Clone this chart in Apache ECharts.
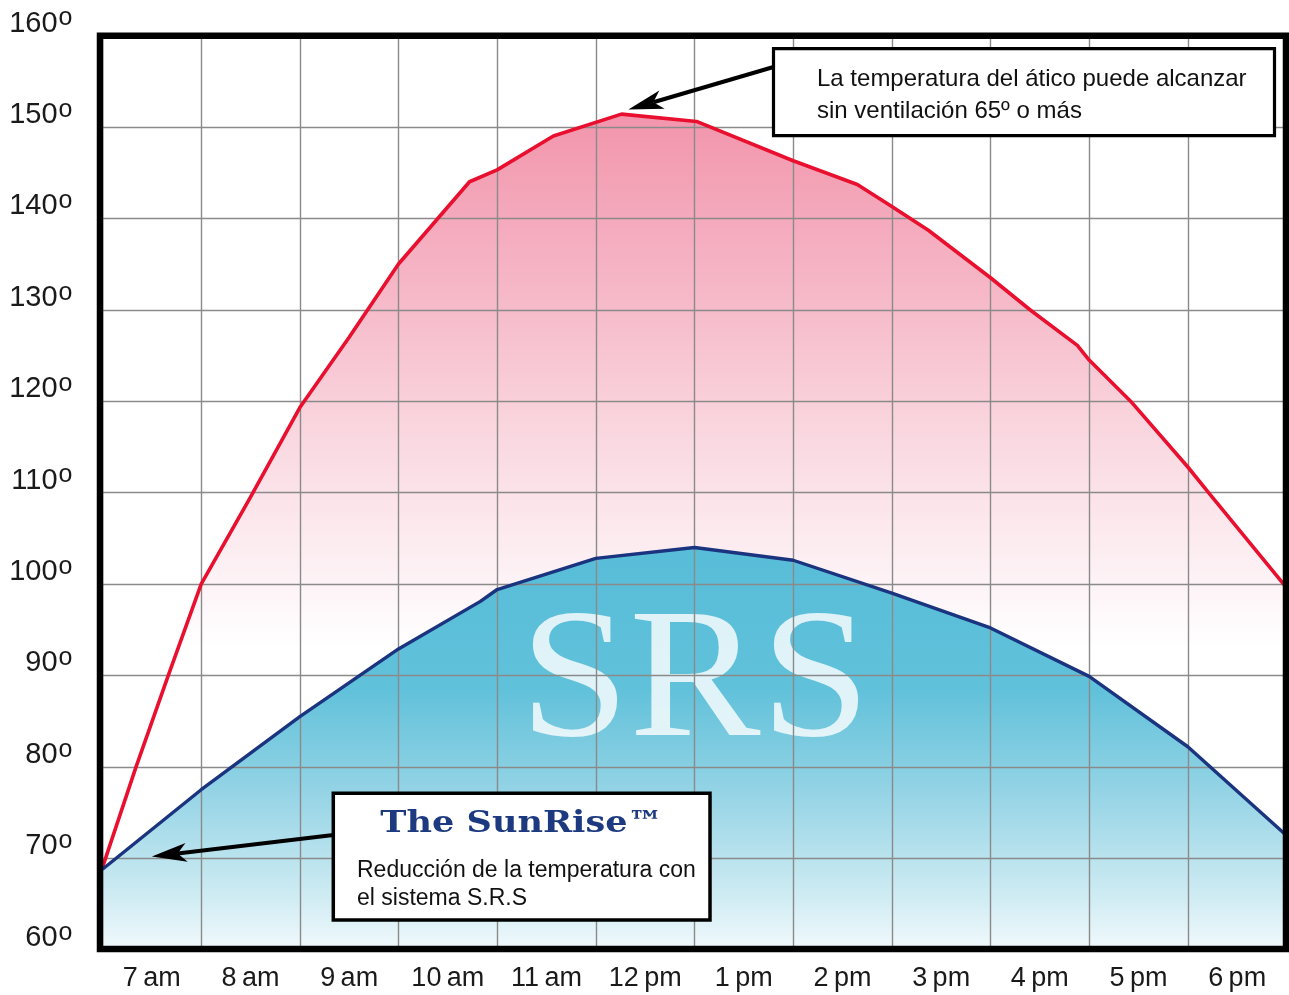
<!DOCTYPE html>
<html>
<head>
<meta charset="utf-8">
<title>Temperatura del ático</title>
<script src="https://cdn.jsdelivr.net/npm/echarts@6/dist/echarts.min.js"></script>
<style>
  html, body { margin: 0; padding: 0; background: #fff; }
  #main { width: 1289px; height: 995px; }
</style>
</head>
<body>
<div id="main"></div>
<script>
// etiquetas del eje x (una por hora, centradas en cada celda)
var hourLabels = ['7\u2009am', '8\u2009am', '9\u2009am', '10\u2009am', '11\u2009am', '12\u2009pm',
  '1\u2009pm', '2\u2009pm', '3\u2009pm', '4\u2009pm', '5\u2009pm', '6\u2009pm'];
// marcas del eje y
var tempTicks = [60, 70, 80, 90, 100, 110, 120, 130, 140, 150, 160];

// ático sin ventilación (x = horas desde las 7am)
var atticHours = [0, 0.34, 0.667, 1, 1.5, 2, 2.5, 3, 3.72, 4, 4.57, 5.26, 6.02, 7, 7.65, 8, 8.37, 9, 9.4, 9.88, 10, 10.42, 11, 11.21, 12];
var atticTemp = [69, 80, 90, 100, 109.5, 119.3, 127, 135, 144, 145.3, 149, 151.4, 150.6, 146.3, 143.7, 141.3, 138.7, 133.5, 130, 126.1, 124.5, 120, 112.8, 110, 99.6];

// con el sistema S.R.S
var srsHours = [0, 1, 2, 3, 3.83, 4, 5, 6, 7, 8, 9, 10, 11, 12];
var srsTemp = [68.8, 77.5, 85.5, 92.9, 98.1, 99.4, 102.8, 104, 102.6, 99.0, 95.2, 89.9, 82.2, 72.5];

var SANS = '"Liberation Sans", Arial, Helvetica, sans-serif';

function pairs(xs, ys) {
  return xs.map(function (x, i) { return [x, ys[i]]; });
}

var atticData = pairs(atticHours, atticTemp);
var srsData = pairs(srsHours, srsTemp);

var dom = document.getElementById('main');
var myChart = echarts.init(dom, null, { renderer: 'canvas' });

var option = {
  backgroundColor: '#ffffff',
  animation: false,
  grid: {
    left: 102.5,
    right: 2.5,
    top: 35.5,
    bottom: 45.3,
    containLabel: false,
    outerBoundsMode: 'none'
  },
  xAxis: [{
    type: 'value',
    min: 0,
    max: hourLabels.length,
    interval: 1,
    z: 3,
    axisLine: { show: false },
    axisTick: { show: false },
    axisLabel: { show: false },
    splitLine: { show: true, lineStyle: { color: '#8a8a8a', width: 1.4 } }
  }, {
    type: 'category',
    data: hourLabels,
    position: 'bottom',
    boundaryGap: true,
    axisLine: { show: false },
    axisTick: { show: false },
    splitLine: { show: false },
    axisLabel: {
      color: '#1a1a1a',
      fontSize: 27,
      fontFamily: SANS,
      margin: 15,
      interval: 0
    }
  }],
  yAxis: {
    type: 'value',
    min: tempTicks[0],
    max: tempTicks[tempTicks.length - 1],
    interval: tempTicks[1] - tempTicks[0],
    z: 3,
    axisLine: { show: false },
    axisTick: { show: false },
    splitLine: { show: true, lineStyle: { color: '#8a8a8a', width: 1.4 } },
    axisLabel: {
      margin: 30,
      verticalAlign: 'middle',
      padding: [0, 0, 24, 0],
      formatter: function (value) {
        return '{n|' + value + '}{o|o}';
      },
      rich: {
        n: { fontSize: 29, lineHeight: 24, fontFamily: SANS, color: '#1a1a1a' },
        o: { fontSize: 25, lineHeight: 24, fontFamily: SANS, color: '#1a1a1a', padding: [0, 0, 10, 1] }
      }
    }
  },
  series: [{
    // relleno rosa
    type: 'line',
    data: atticData,
    z: 1,
    silent: true,
    showSymbol: false,
    lineStyle: { width: 0 },
    areaStyle: {
      origin: 'start',
      opacity: 1,
      color: new echarts.graphic.LinearGradient(0, 0, 0, 1, [
        { offset: 0, color: '#f295ac' },
        { offset: 0.22, color: '#f6b9c8' },
        { offset: 0.40, color: '#fadae2' },
        { offset: 0.56, color: '#fdf3f6' },
        { offset: 0.64, color: '#ffffff' },
        { offset: 1, color: '#ffffff' }
      ])
    }
  }, {
    // relleno azul
    type: 'line',
    data: srsData,
    z: 1,
    silent: true,
    showSymbol: false,
    lineStyle: { width: 0 },
    areaStyle: {
      origin: 'start',
      opacity: 1,
      color: new echarts.graphic.LinearGradient(0, 0, 0, 1, [
        { offset: 0, color: '#58bdd8' },
        { offset: 0.35, color: '#60c1da' },
        { offset: 0.6, color: '#93d3e5' },
        { offset: 0.85, color: '#cbeaf2' },
        { offset: 1, color: '#f1f9fc' }
      ])
    }
  }, {
    type: 'line',
    data: atticData,
    z: 4,
    showSymbol: false,
    lineStyle: { color: '#e8102e', width: 3.6 }
  }, {
    type: 'line',
    data: srsData,
    z: 4,
    showSymbol: false,
    lineStyle: { color: '#1b347f', width: 3.4 }
  }]
};

myChart.setOption(option, true);

// flecha: línea + punta
function arrow(tail, tip) {
  var dx = tip[0] - tail[0], dy = tip[1] - tail[1];
  var len = Math.sqrt(dx * dx + dy * dy);
  var ux = dx / len, uy = dy / len;
  var px = -uy, py = ux;
  var L = 35, W = 9.5, N = 26;
  var bx = tip[0] - ux * L, by = tip[1] - uy * L;
  var nx = tip[0] - ux * N, ny = tip[1] - uy * N;
  return [{
    type: 'line',
    z: 10,
    shape: { x1: tail[0], y1: tail[1], x2: nx, y2: ny },
    style: { stroke: '#000', lineWidth: 4 }
  }, {
    type: 'polygon',
    z: 10,
    shape: { points: [tip, [bx + px * W, by + py * W], [nx, ny], [bx - px * W, by - py * W]] },
    style: { fill: '#000' }
  }];
}

var topTip = myChart.convertToPixel({ xAxisIndex: 0, yAxisIndex: 0 }, [5.33, 151.9]);
var lowTip = myChart.convertToPixel({ xAxisIndex: 0, yAxisIndex: 0 }, [0.5, 70.2]);

function label(text, x, y, font, color, align, sx) {
  return {
    type: 'text',
    z: 11,
    x: x,
    y: y,
    scaleX: sx || 1,
    style: {
      text: text,
      font: font,
      fill: color,
      align: align, textAlign: align,
      verticalAlign: 'middle', textVerticalAlign: 'middle'
    }
  };
}

var graphics = [{
  // marca de agua SRS
  type: 'text',
  z: 2,
  silent: true,
  x: 695,
  y: 687,
  scaleX: 1.07,
  style: {
    text: 'SRS',
    font: '184px "Liberation Serif", "Times New Roman", serif',
    fill: 'rgba(255,255,255,0.8)',
    align: 'center', textAlign: 'center',
    verticalAlign: 'middle', textVerticalAlign: 'middle'
  }
}, {
  // borde del gráfico
  type: 'rect',
  z: 10,
  silent: true,
  shape: { x: 100, y: 35.7, width: 1186, height: 913.2 },
  style: { fill: null, stroke: '#000', lineWidth: 6.5 }
}, {
  type: 'rect',
  z: 10,
  shape: { x: 773.5, y: 48.7, width: 501, height: 87 },
  style: { fill: '#fff', stroke: '#000', lineWidth: 3.2 }
}, {
  type: 'rect',
  z: 10,
  shape: { x: 333.3, y: 793.3, width: 376.7, height: 126.7 },
  style: { fill: '#fff', stroke: '#000', lineWidth: 3.5 }
},
  label('La temperatura del ático puede alcanzar', 817, 79.8, '24px ' + SANS, '#111', 'left'),
  label('sin ventilación 65º o más', 817, 111.4, '24px ' + SANS, '#111', 'left'),
  label('The SunRise™', 521.5, 824.5, 'bold 30px "DejaVu Serif", "Liberation Serif", serif', '#1d3a80', 'center', 1.17),
  label('Reducción de la temperatura con', 357, 870.3, '23px ' + SANS, '#111', 'left'),
  label('el sistema S.R.S', 357, 898.6, '23px ' + SANS, '#111', 'left')
];

graphics = graphics.concat(arrow([773.5, 67], topTip), arrow([333.3, 835], lowTip));

myChart.setOption({ graphic: graphics });
</script>
</body>
</html>
